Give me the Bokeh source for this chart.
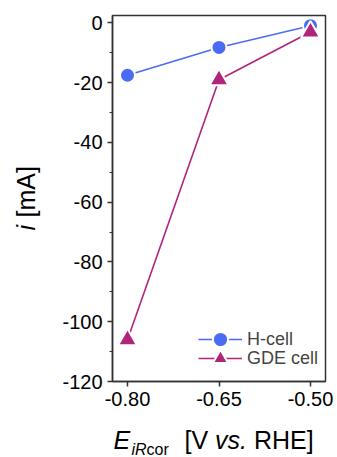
import math
from bokeh.plotting import figure
from bokeh.layouts import row, column
from bokeh.models import (Range1d, FixedTicker, SingleIntervalTicker, PrintfTickFormatter,
                          Legend, LegendItem)
from bokeh.core.properties import value
from bokeh.embed import file_html
from bokeh.resources import INLINE

# ---- data ----
potentials = [-0.80, -0.65, -0.50]
h_cell = [-17.5, -8.2, -0.9]
gde_cell = [-106.0, -19.0, -3.0]
x_ticks = [-0.80, -0.65, -0.50]
series_names = ["H-cell", "GDE cell"]

BLUE = "#4A6CF3"
MAG = "#B0247A"
AX = "#333333"
FONT = "Liberation Sans"
NB = "\u00a0"

W, H = 337, 457
YLW = 45               # width of y-label strip
MW, MH = W - YLW, 420  # main figure size
FL, FR, FT, FB = 112, 325, 15, 381   # frame in page pixels
X0, X1 = -0.8246, -0.4754
Y0, Y1 = -120.0, 2.5

p = figure(width=MW, height=MH, output_backend="svg", toolbar_location=None,
           x_range=Range1d(X0, X1), y_range=Range1d(Y0, Y1),
           min_border_left=FL - YLW, min_border_right=W - FR,
           min_border_top=FT, min_border_bottom=MH - FB)
p.title.visible = False
p.grid.visible = False
p.outline_line_color = AX
p.outline_line_width = 1.5

for ax in (p.xaxis[0], p.yaxis[0]):
    ax.axis_line_color = AX
    ax.axis_line_width = 1.5
    ax.major_tick_line_color = AX
    ax.major_tick_line_width = 1.5
    ax.minor_tick_line_color = AX
    ax.minor_tick_line_width = 1.2
    ax.major_tick_out = 5
    ax.major_tick_in = 0
    ax.minor_tick_out = 3
    ax.minor_tick_in = 0
    ax.major_label_text_font = FONT
    ax.major_label_text_font_size = "20px"
    ax.major_label_text_color = "black"
    ax.major_label_standoff = 5

p.xaxis.ticker = FixedTicker(ticks=x_ticks)
p.xaxis.formatter = PrintfTickFormatter(format="%.2f")
p.yaxis.ticker = SingleIntervalTicker(interval=20, num_minor_ticks=2)
p.yaxis.formatter = PrintfTickFormatter(format="%d")

r1l = p.line(potentials, h_cell, line_color=BLUE, line_width=1.6)
r1m = p.scatter(potentials, h_cell, marker="circle", size=15, fill_color=BLUE,
                line_color="white", line_width=2)
r2l = p.line(potentials, gde_cell, line_color=MAG, line_width=1.6)
r2m = p.scatter(potentials, gde_cell, marker="triangle", size=19, fill_color=MAG,
                line_color="white", line_width=2)


def make_legend(label, rends, loc):
    return Legend(items=[LegendItem(label=label, renderers=rends)],
                  location=loc, glyph_width=44, glyph_height=38, label_height=38,
                  spacing=0, padding=0, margin=0, label_standoff=5,
                  label_text_font=FONT, label_text_font_size="18px",
                  border_line_alpha=0, background_fill_alpha=0)


p.add_layout(make_legend(series_names[0], [r1l, r1m], (86, 23)))
p.add_layout(make_legend(series_names[1], [r2l, r2m], (86, 4)))


def strip(w, h, left, top, bl, br, bt, bb):
    # frame covers page pixels [left+bl, left+w-br] x [top+bt, top+h-bb]
    f = figure(width=w, height=h, output_backend="svg", toolbar_location=None,
               x_range=Range1d(left + bl, left + w - br),
               y_range=Range1d(H - (top + h - bb), H - (top + bt)),
               min_border_left=bl, min_border_right=br,
               min_border_top=bt, min_border_bottom=bb,
               x_axis_location=None, y_axis_location=None)
    f.title.visible = False
    f.grid.visible = False
    f.outline_line_color = None
    return f


def txt(f, s, px, py, size, style="normal", angle=0.0):
    f.text(x=[px], y=[H - py], text=[s], text_font=value(FONT),
           text_font_size=value(f"{size}px"), text_font_style=style, angle=angle,
           text_align="left", text_baseline="middle", text_color="black")


# y-axis label strip: i [mA]  (frame aligned with the main frame vertically)
yl = strip(YLW, MH, 0, 0, 0, 0, FT, MH - FB)
YL = 25
txt(yl, "i", 25, 230, YL, "italic", angle=math.pi / 2)
txt(yl, NB + "[mA]", 25, 230 - 0.24 * YL, YL, angle=math.pi / 2)

# x-axis label strip: E_iRcor [V vs. RHE]  (frame aligned with the main frame horizontally)
xl = strip(W, H - MH, 0, MH, FL, W - FR, 0, 0)
BIG, SUB = 25, 16
MID = 439.5    # vertical middle of the big text
SMID = 448.5   # vertical middle of the subscript
txt(xl, "E", 113, MID, BIG, "italic")
txt(xl, "iR", 131, SMID, SUB, "italic")
txt(xl, "cor", 131 + 0.944 * SUB, SMID, SUB)
xs = 184
txt(xl, "[V" + NB, xs, MID, BIG)
xs += (0.278 + 0.667 + 0.278) * BIG
txt(xl, "vs.", xs, MID, BIG, "italic")
xs += (0.5 + 0.5 + 0.278) * BIG
txt(xl, NB + "RHE]", xs, MID, BIG)

layout = column(row(yl, p, spacing=0), xl, spacing=0)
open("out.html", "w").write(file_html(layout, INLINE))
